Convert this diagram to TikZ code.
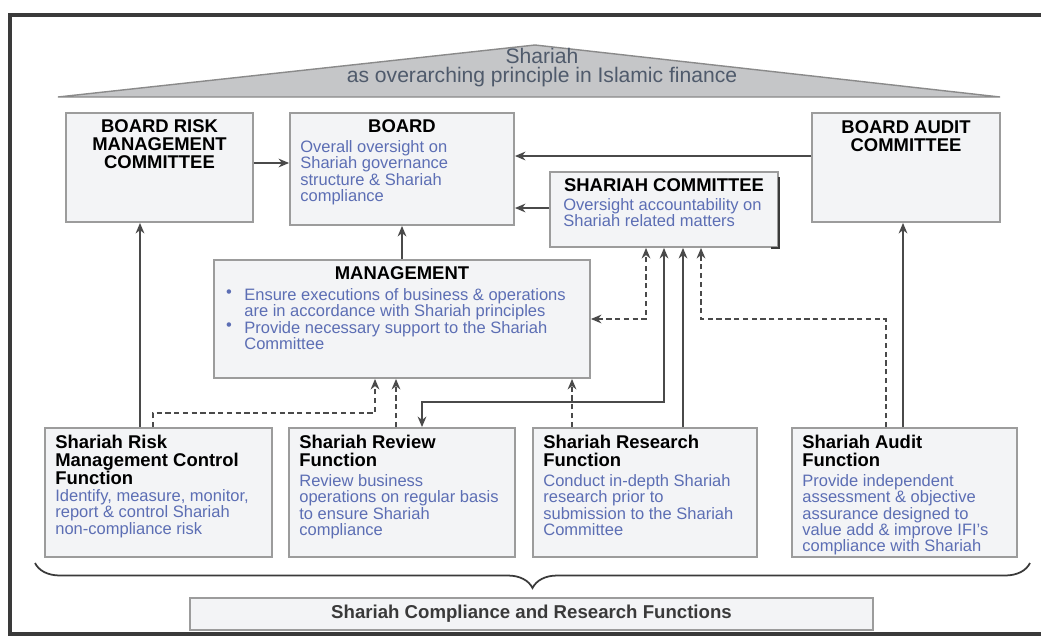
\documentclass[tikz,border=0pt]{standalone}
\usepackage{fontspec}
\setmainfont{Liberation Sans}
\usetikzlibrary{arrows.meta,decorations.pathreplacing}

\definecolor{framegray}{HTML}{3A3A3A}
\definecolor{roofgray}{HTML}{C5C6C8}
\definecolor{roofedge}{HTML}{8A8A8A}
\definecolor{rooftext}{HTML}{4F5A6B}
\definecolor{boxgray}{HTML}{9C9C9C}
\definecolor{boxfill}{HTML}{F3F4F6}
\definecolor{bodyblue}{RGB}{92,110,180}
\definecolor{linkgray}{HTML}{4A4A4A}

\begin{document}
\begin{tikzpicture}[x=0.02cm,y=-0.02cm,
  box/.style={draw=boxgray, line width=1.1pt, fill=boxfill, inner sep=0pt},
  head/.style={font=\bfseries\fontsize{10.5}{10.2}\selectfont, inner sep=0pt},
  body/.style={text=bodyblue, font=\fontsize{9.4}{9.3}\selectfont, align=left, inner sep=0pt, anchor=north west},
  roofline/.style={text=rooftext, font=\fontsize{12}{12}\selectfont, inner sep=0pt, anchor=base},
  link/.style={draw=linkgray, line width=0.8pt, -{Stealth[length=6pt,width=5pt]}},
  dlink/.style={link, dash pattern=on 3pt off 2pt}]
\useasboundingbox (0,0) rectangle (1041,636);

% Outer frame
\draw[framegray, line width=2.5pt] (10,15) rectangle (1050,634);

% Roof
\draw[fill=roofgray, draw=roofedge, line width=0.8pt] (58,97) -- (535,45) -- (1000,97) -- cycle;
\node (roof-a) [roofline] at (542,63) {Shariah};
\node (roof-b) [roofline] at (542,82) {as overarching principle in Islamic finance};

% Boards and committees
\node (brmc) [box, minimum width=3.74cm, minimum height=2.18cm] at (159.5,167.5) {};
\node (brmc-t) [head, align=center, anchor=north] at (159.5,119) {BOARD RISK\\MANAGEMENT\\COMMITTEE};

\node (board) [box, minimum width=4.48cm, minimum height=2.24cm] at (402,169) {};
\node (board-t) [head, anchor=north] at (402,119) {BOARD};
\node (board-b) [body] at (300,140) {Overall oversight on\\Shariah governance\\structure \& Shariah\\compliance};

\node (bac) [box, minimum width=3.76cm, minimum height=2.18cm] at (906,167.5) {};
\node (bac-t) [head, align=center, anchor=north] at (906,120) {BOARD AUDIT\\COMMITTEE};

\node (sc) [box, minimum width=4.56cm, minimum height=1.5cm] at (664,209.5) {};
\draw[framegray, line width=1.2pt] ([yshift=-0.12cm]sc.north east) -- (sc.south east) -- ([xshift=-0.16cm]sc.south east);
\node (sc-t) [head, anchor=north] at (664,178) {SHARIAH COMMITTEE};
\node (sc-b) [body] at (563,198) {Oversight accountability on\\Shariah related matters};

% Management
\node (mgmt) [box, minimum width=7.52cm, minimum height=2.36cm] at (402,319) {};
\node (mgmt-t) [head, anchor=north] at (402,266) {MANAGEMENT};
\node (mgmt-b) [body] at (244,288) {Ensure executions of business \& operations\\are in accordance with Shariah principles\\Provide necessary support to the Shariah\\Committee};
\node (bul1) [text=bodyblue, font=\fontsize{9.4}{9.3}\selectfont, inner sep=0pt] at (229,294) {•};
\node (bul2) [text=bodyblue, font=\fontsize{9.4}{9.3}\selectfont, inner sep=0pt] at (229,327) {•};

% Functions
\node (srm) [box, minimum width=4.54cm, minimum height=2.58cm] at (158.5,492.5) {};
\node (srm-t) [head, align=left, anchor=north west] at (55,435) {Shariah Risk\\Management Control\\Function};
\node (srm-b) [body] at (55,489) {Identify, measure, monitor,\\report \& control Shariah\\non-compliance risk};

\node (srv) [box, minimum width=4.52cm, minimum height=2.58cm] at (402,492.5) {};
\node (srv-t) [head, align=left, anchor=north west] at (299,435) {Shariah Review\\Function};
\node (srv-b) [body] at (299,474) {Review business\\operations on regular basis\\to ensure Shariah\\compliance};

\node (srs) [box, minimum width=4.48cm, minimum height=2.58cm] at (645,492.5) {};
\node (srs-t) [head, align=left, anchor=north west] at (543,435) {Shariah Research\\Function};
\node (srs-b) [body] at (543,474) {Conduct in-depth Shariah\\research prior to\\submission to the Shariah\\Committee};

\node (sau) [box, minimum width=4.5cm, minimum height=2.58cm] at (904.5,492.5) {};
\node (sau-t) [head, align=left, anchor=north west] at (802,435) {Shariah Audit\\Function};
\node (sau-b) [body] at (802,474) {Provide independent\\assessment \& objective\\assurance designed to\\value add \& improve IFI’s\\compliance with Shariah};

% Brace and label
\draw[framegray, line width=1pt, decorate, decoration={brace, amplitude=0.5cm}] (1030,563) -- (35,563);
\node (scrf) [box, minimum width=13.66cm, minimum height=0.64cm, text=framegray,
  font=\bfseries\fontsize{10.6}{12}\selectfont] at (531.5,614) {Shariah Compliance and Research Functions};

% Reporting lines
\draw[link] (brmc.east |- 0,163) -- (board.west |- 0,163);
\draw[link] (bac.west |- 0,156) -- (board.east |- 0,156);
\draw[link] (sc.west |- 0,208) -- (board.east |- 0,208);
\draw[link] (mgmt.north) -- (board.south);
\draw[link] (140,0 |- srm.north) -- (140,0 |- brmc.south);
\draw[link] (903,0 |- sau.north) -- (903,0 |- bac.south);

% Function lines to management
\draw[dlink] (153,0 |- srm.north) -- (153,413) -- (375,413) -- (375,0 |- mgmt.south);
\draw[dlink] (396,0 |- srv.north) -- (396,0 |- mgmt.south);
\draw[dlink] (572,0 |- srs.north) -- (572,0 |- mgmt.south);

% Lines to Shariah committee
\draw[dlink, {Stealth[length=6pt,width=5pt]}-{Stealth[length=6pt,width=5pt]}] (mgmt.east |- 0,319) -| (646,0 |- sc.south);
\draw[link, {Stealth[length=6pt,width=5pt]}-{Stealth[length=6pt,width=5pt]}] (422,0 |- srv.north) -- (422,402) -| (664,0 |- sc.south);
\draw[link] (683,0 |- srs.north) -- (683,0 |- sc.south);
\draw[dlink] (886,0 |- sau.north) -- (886,319) -| (701,0 |- sc.south);

\end{tikzpicture}
\end{document}
